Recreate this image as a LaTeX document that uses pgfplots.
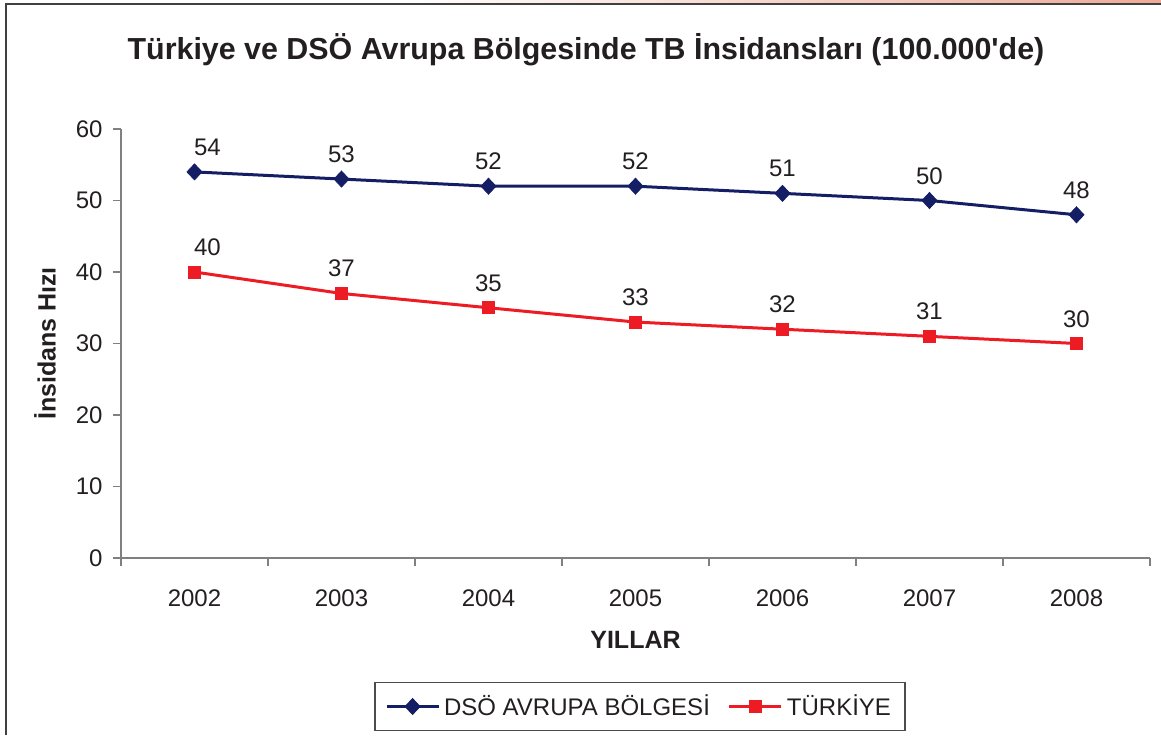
\documentclass[border=0pt]{standalone}
\usepackage{fontspec}
\setmainfont{Liberation Sans}[Ligatures=TeXOff]
\usepackage{pgfplots}
\pgfplotsset{compat=1.18}
\definecolor{navy}{RGB}{20,30,100}
\definecolor{trred}{RGB}{237,28,36}
\definecolor{axisgray}{RGB}{128,128,128}
\definecolor{txt}{RGB}{35,31,32}
\definecolor{pinkbar}{RGB}{238,170,150}
\newcommand{\fs}{\fontsize{12}{14}\selectfont}

\begin{document}
\begin{tikzpicture}
% page frame (units: 1px = 0.5pt, axis origin at its lower left corner)
\useasboundingbox (-60.5pt,-88.5pt) rectangle (520pt,279pt);
\shade[left color=white, right color=pinkbar] (140pt,277.5pt) rectangle (520pt,279pt);
\draw[black!75, line width=1pt] (-57.5pt,-88.5pt) -- (-57.5pt,277pt) -- (520pt,277pt);
\begin{axis}[
  scale only axis, width=514.5pt, height=214.5pt,
  xmin=0.5, xmax=7.5, ymin=0, ymax=60,
  axis lines*=left,
  axis line style={axisgray, line width=0.7pt},
  tick style={axisgray, line width=0.7pt},
  tick align=outside, major tick length=4pt, minor tick length=4pt,
  xtick={1,...,7}, xticklabels={2002,2003,2004,2005,2006,2007,2008},
  minor xtick={0.5,1.5,...,7.5},
  x tick style={draw=none}, minor x tick style={draw=axisgray},
  ytick={0,10,...,60},
  /pgf/number format/assume math mode=true,
  tick label style={font=\fs, text=txt},
  xticklabel style={inner ysep=0pt, yshift=-11.5pt},
  yticklabel style={inner xsep=0pt, xshift=-5pt},
  title={Türkiye ve DSÖ Avrupa Bölgesinde TB İnsidansları (100.000'de)},
  every axis title/.style={at={(rel axis cs:0,1)}, xshift=232.5pt, yshift=39.5pt,
    anchor=center, font=\fontsize{15.2}{18}\selectfont\bfseries, text=txt},
  xlabel={YILLAR},
  every axis x label/.style={at={(rel axis cs:0.5,0)}, yshift=-41pt, anchor=center,
    font=\fontsize{12.5}{15}\selectfont\bfseries, text=txt},
  ylabel={İnsidans Hızı},
  every axis y label/.style={at={(rel axis cs:0,0.5)}, xshift=-38pt, rotate=90,
    anchor=center, font=\fontsize{12.5}{15}\selectfont\bfseries, text=txt},
  nodes near coords,
  every node near coord/.append style={font=\fs, text=txt, anchor=base,
    inner sep=0pt, yshift=8.25pt},
  coordinate style/.condition={x==1}{xshift=6.5pt},
  legend columns=2,
  legend style={at={([yshift=-74.25pt]rel axis cs:0.5044,0)}, anchor=center,
    draw=black!70, line width=0.6pt, font=\fs, text=txt,
    inner xsep=5pt, inner ysep=4pt,
    /tikz/every even column/.append style={column sep=7pt}},
  legend image code/.code={
    \draw[mark repeat=2, mark phase=2] plot coordinates {(0pt,0pt) (13pt,0pt) (26pt,0pt)};},
]
\addplot[navy, line width=1.5pt, mark=diamond*,
  mark options={solid, xscale=1.25, line width=0.4pt}, mark size=4pt]
  coordinates {(1,54) (2,53) (3,52) (4,52) (5,51) (6,50) (7,48)};
\addlegendentry{DSÖ AVRUPA BÖLGESİ}
\addplot[trred, line width=1.5pt, mark=square*,
  mark options={solid, line width=0.4pt}, mark size=3pt]
  coordinates {(1,40) (2,37) (3,35) (4,33) (5,32) (6,31) (7,30)};
\addlegendentry{TÜRKİYE}
\end{axis}
\end{tikzpicture}
\end{document}
